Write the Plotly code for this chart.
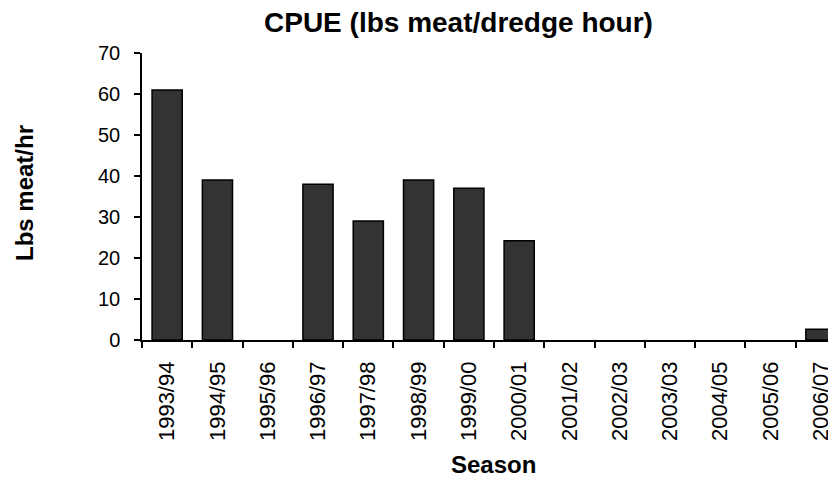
import plotly.graph_objects as go

seasons = ["1993/94", "1994/95", "1995/96", "1996/97", "1997/98", "1998/99", "1999/00",
           "2000/01", "2001/02", "2002/03", "2003/03", "2004/05", "2005/06", "2006/07"]
cpue = [61, 39, 0, 38, 29, 39, 37, 24.2, 0, 0, 0, 0, 0, 2.6]
y_ticks = [0, 10, 20, 30, 40, 50, 60, 70]

font = "Liberation Sans, Arial, sans-serif"

# page body has an 8px margin; the figure is offset by it
OFF = 8
pl, pr, pt, pb = 142, 836, 53, 340  # plot area in viewport pixels

fig = go.Figure(go.Bar(
    x=seasons, y=cpue, width=0.6,
    marker=dict(color="#333333",
                line=dict(color="black", width=[1.5 if v > 0 else 0 for v in cpue])),
))

fig.update_layout(
    width=836 - OFF, height=480 - OFF,
    margin=dict(l=pl - OFF, r=0, t=pt - OFF, b=480 - pb, autoexpand=False),
    paper_bgcolor="white", plot_bgcolor="white",
    font=dict(family=font, size=20, color="black"),
    showlegend=False,
    xaxis=dict(
        type="category", range=[-0.5, 13.3], tickson="boundaries",
        ticks="outside", ticklen=6, tickwidth=1.5, tickcolor="black",
        showline=True, linecolor="black", linewidth=1.5,
        tickangle=-90, tickfont=dict(size=22), showgrid=False,
        automargin=False, ticklabelstandoff=11,
    ),
    yaxis=dict(
        range=[0, 70], tickvals=y_ticks,
        ticks="outside", ticklen=6, tickwidth=1.5, tickcolor="black",
        showline=True, linecolor="black", linewidth=1.5,
        tickfont=dict(size=20), showgrid=False, zeroline=False,
        automargin=False, ticklabelstandoff=10,
    ),
)

labels = [
    ("<b>CPUE (lbs meat/dredge hour)</b>", 458, 22, 28, 0),
    ("<b>Season</b>", 493, 464, 24, 0),
    ("<b>Lbs meat/hr</b>", 24, 193, 24, -90),
]
for text, px, py, size, ang in labels:
    fig.add_annotation(
        text=text, showarrow=False, textangle=ang,
        x=(px - pl) / (pr - pl), y=(pb - py) / (pb - pt),
        xref="paper", yref="paper", xanchor="center", yanchor="middle",
        font=dict(size=size),
    )

fig.write_html("out.html")
